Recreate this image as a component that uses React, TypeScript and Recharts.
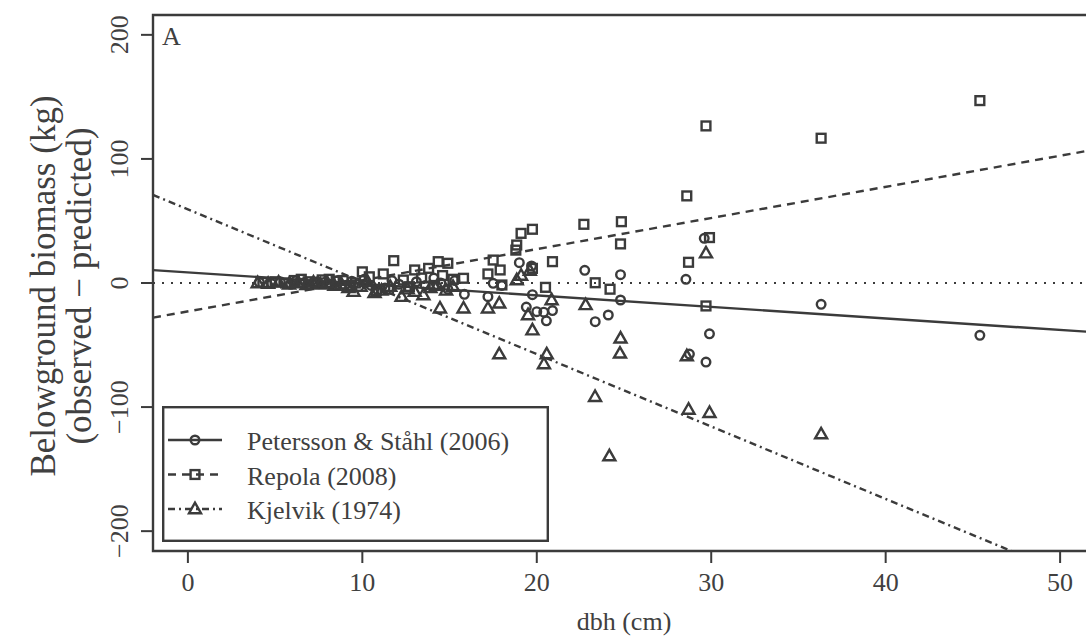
import {
  ComposedChart,
  Label,
  Legend,
  Line,
  ReferenceArea,
  ReferenceLine,
  Scatter,
  XAxis,
  YAxis,
} from 'recharts';

const INK = '#3b3b3b';
const TEXT = '#404040';
const SERIF = '"Liberation Serif", "Times New Roman", serif';

// Petersson & Ståhl (2006): dbh (cm) and residual (kg)
const petDbh = [
  4.1, 4.8, 5.3, 5.9, 6.2, 6.6, 7.0, 7.4, 7.8, 8.2, 8.6, 9.0, 9.4, 9.8, 10.1,
  10.5, 10.9, 11.3, 11.7, 12.1, 12.6, 13.1, 13.6, 14.1, 14.5, 14.9, 15.3,
  15.85, 17.2, 17.5, 18.0, 19.0, 19.7, 19.75, 19.4, 20.0, 20.4, 20.9, 20.55,
  22.75, 23.35, 24.1, 24.8, 24.8, 28.55, 28.75, 29.6, 29.7, 29.9, 36.3, 45.4,
];
const petResid = [
  0.5, -0.5, 1, -1, 2, 0, -1.5, 1, 0.5, -1, 2, -2, 1.5, -3, 3, -2, -6, -4, 2,
  -1, -3, 1, -2, 4, 0, -5, 2, -9.1, -11, -0.3, -2, 16.4, 13.7, -9.4, -19.4,
  -23.1, -23.5, -22.2, -30.5, 10.2, -31.2, -25.8, 6.7, -13.7, 3, -57.3, 36,
  -63.7, -41, -17.2, -42.2,
];

// Repola (2008)
const repDbh = [
  4.3, 5.0, 5.6, 6.1, 6.5, 6.9, 7.3, 7.7, 8.1, 8.5, 8.9, 9.3, 9.6, 10.0, 10.4,
  10.8, 11.2, 11.5, 11.8, 12.35, 12.7, 13.0, 13.4, 13.8, 14.1, 14.35, 14.6,
  14.9, 15.2, 15.8, 17.2, 17.5, 17.9, 18.0, 18.85, 18.8, 19.1, 19.75, 19.75,
  20.5, 20.9, 22.7, 23.35, 24.2, 24.85, 24.8, 28.6, 28.7, 29.7, 29.9, 29.7,
  36.3, 45.4,
];
const repResid = [
  0.5, 1, 0, 2, 3, 1, 0, 2.5, 3, 1.5, 2, -2, 0, 9, 5, -6, 7.3, -5, 18, 2.4, -3,
  10.5, 4, 11.8, -2, 17.2, 6, 15.9, 3, 3.8, 7.3, 18.5, 10.5, -1.6, 30.6, 26.5,
  40, 43.3, 11.8, -3.5, 17.2, 47.3, 0.2, -5, 49.4, 31.5, 70.2, 16.7, 126.6,
  36.6, -18.5, 116.7, 147,
];

// Kjelvik (1974)
const kjeDbh = [
  4.0, 4.6, 5.2, 5.8, 6.3, 6.8, 7.2, 7.6, 8.0, 8.4, 8.8, 9.2, 9.5, 9.9, 10.3,
  10.7, 11.1, 11.6, 12.25, 12.6, 13.0, 13.5, 13.9, 14.3, 14.45, 14.8, 15.2,
  15.8, 17.2, 17.85, 17.85, 18.85, 19.1, 19.5, 19.75, 19.6, 20.57, 20.41,
  20.85, 22.8, 23.34, 24.16, 24.8, 24.77, 28.6, 28.7, 29.7, 29.9, 36.3,
];
const kjeResid = [
  0, -0.5, 0.5, -1, 0, -1.5, 0.5, -1, 0, -2, -1, -4, -7, -3, 1, -8, -6, -3, -11,
  -5, -7, -9.7, -4, -2, -20.4, -6, -3, -20.4, -20.4, -16.4, -57.3, 2.4, 6,
  -25.8, -38, 10, -57.3, -65.3, -13.7, -17.7, -91.7, -139.5, -44.6, -56.7,
  -58.9, -102, 24, -104.6, -121.8,
];

// fitted trend of residuals on dbh, evaluated at the plot limits
const fitDbh = [-2, 52];
const petFit = [10.4, -39.7];
const repFit = [-27.9, 107.6];
const kjeFit = [71, -244];

const xTicks = [0, 10, 20, 30, 40, 50];
const yTicks = [-200, -100, 0, 100, 200];

const toPoints = (xs: number[], ys: number[]) =>
  xs.map((x, i) => ({ x, y: ys[i] }));

// typographic minus for negative tick labels
const fmt = (v: number) => String(v).replace('-', '\u2212');

const STROKE = 2.4;

const CircleMark = ({ cx, cy }: any) => (
  <circle cx={cx} cy={cy} r={4.3} fill="none" stroke={INK} strokeWidth={STROKE} />
);
const SquareMark = ({ cx, cy }: any) => (
  <rect
    x={cx - 4.4}
    y={cy - 4.4}
    width={8.8}
    height={8.8}
    fill="none"
    stroke={INK}
    strokeWidth={STROKE}
  />
);
const TriangleMark = ({ cx, cy }: any) => (
  <polygon
    points={`${cx},${cy - 6.3} ${cx - 6},${cy + 4.2} ${cx + 6},${cy + 4.2}`}
    fill="none"
    stroke={INK}
    strokeWidth={STROKE}
  />
);

const series = [
  {
    name: 'Petersson & Ståhl (2006)',
    points: toPoints(petDbh, petResid),
    fit: toPoints(fitDbh, petFit),
    dash: undefined as string | undefined,
    Mark: CircleMark,
  },
  {
    name: 'Repola (2008)',
    points: toPoints(repDbh, repResid),
    fit: toPoints(fitDbh, repFit),
    dash: '8 6',
    Mark: SquareMark,
  },
  {
    name: 'Kjelvik (1974)',
    points: toPoints(kjeDbh, kjeResid),
    fit: toPoints(fitDbh, kjeFit),
    dash: '7 4 2 4',
    Mark: TriangleMark,
  },
];

const XTick = ({ x, y, payload }: any) => (
  <text
    x={x}
    y={y}
    dy={26}
    textAnchor="middle"
    fontFamily={SERIF}
    fontSize={26}
    fill={TEXT}
  >
    {fmt(payload.value)}
  </text>
);

// R-style tick labels, written parallel to the axis
const YTick = ({ y, payload }: any) => (
  <text
    transform={`translate(128, ${y}) rotate(-90)`}
    textAnchor="middle"
    fontFamily={SERIF}
    fontSize={26}
    fill={TEXT}
  >
    {fmt(payload.value)}
  </text>
);

const YTitle = () => (
  <g fontFamily={SERIF} fontSize={35} fill={TEXT} textAnchor="middle">
    <text transform="translate(55, 286) rotate(-90)">Belowground biomass (kg)</text>
    <text transform="translate(91, 286) rotate(-90)">(observed − predicted)</text>
  </g>
);

const XTitle = () => (
  <text
    x={624}
    y={630}
    textAnchor="middle"
    fontFamily={SERIF}
    fontSize={26}
    fill={TEXT}
  >
    dbh (cm)
  </text>
);

const PanelTag = ({ viewBox }: any) => (
  <text
    x={viewBox.x + 9}
    y={viewBox.y + 30}
    fontFamily={SERIF}
    fontSize={26}
    fill={TEXT}
  >
    A
  </text>
);

const LegendBox = () => (
  <svg width={387} height={136} style={{ display: 'block' }}>
    <rect
      x={1.2}
      y={1.2}
      width={384.6}
      height={133.6}
      fill="#fff"
      stroke={INK}
      strokeWidth={STROKE}
    />
    {series.map((s, i) => {
      const cy = 34 + i * 34.5;
      return (
        <g key={s.name}>
          <line
            x1={6}
            x2={60}
            y1={cy}
            y2={cy}
            stroke={INK}
            strokeWidth={STROKE}
            strokeDasharray={s.dash}
          />
          <s.Mark cx={33} cy={cy} />
          <text
            x={85}
            y={cy + 10}
            fontFamily={SERIF}
            fontSize={26}
            fill={TEXT}
          >
            {s.name}
          </text>
        </g>
      );
    })}
  </svg>
);

export default function App() {
  return (
    <div
      style={{
        position: 'absolute',
        left: 0,
        top: 0,
        width: 1086,
        height: 641,
        overflow: 'hidden',
        background: '#fff',
      }}
    >
      <ComposedChart
        width={1100}
        height={641}
        margin={{ top: 15, right: 5, bottom: 0, left: 0 }}
      >
        <XAxis
          type="number"
          dataKey="x"
          domain={[-2, 52]}
          ticks={xTicks}
          allowDataOverflow
          axisLine={false}
          tickLine={{ stroke: INK, strokeWidth: 2 }}
          tickSize={12}
          tick={<XTick />}
          height={90}
        >
          <Label content={<XTitle />} />
        </XAxis>
        <YAxis
          type="number"
          dataKey="y"
          domain={[-216, 216]}
          ticks={yTicks}
          allowDataOverflow
          axisLine={false}
          tickLine={{ stroke: INK, strokeWidth: 2 }}
          tickSize={12}
          tick={<YTick />}
          width={153}
        >
          <Label content={<YTitle />} />
        </YAxis>

        <ReferenceArea
          x1={-2}
          x2={52}
          y1={-216}
          y2={216}
          fill="none"
          fillOpacity={0}
          stroke={INK}
          strokeWidth={2.4}
          ifOverflow="visible"
          label={<PanelTag />}
        />
        <ReferenceLine
          y={0}
          stroke={INK}
          strokeWidth={2.2}
          strokeDasharray="2 7"
        />

        {series.map(s => (
          <Line
            key={`fit-${s.name}`}
            data={s.fit}
            dataKey="y"
            stroke={INK}
            strokeWidth={STROKE}
            strokeDasharray={s.dash}
            dot={false}
            activeDot={false}
            legendType="none"
            isAnimationActive={false}
          />
        ))}
        {series.map(s => (
          <Scatter
            key={`pts-${s.name}`}
            name={s.name}
            data={s.points}
            shape={<s.Mark />}
            isAnimationActive={false}
          />
        ))}

        <Legend
          layout="vertical"
          align="center"
          verticalAlign="middle"
          content={() => <LegendBox />}
          wrapperStyle={{
            left: 162,
            top: 406,
            width: 387,
            height: 136,
            bottom: 'auto',
          }}
        />
      </ComposedChart>
    </div>
  );
}
